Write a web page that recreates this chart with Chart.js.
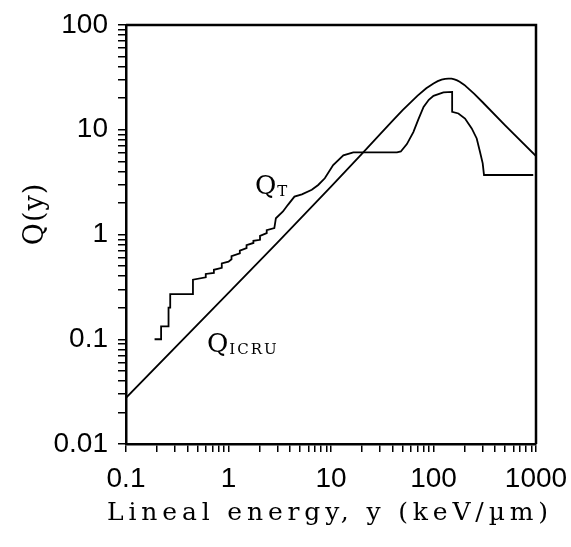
<!DOCTYPE html>
<html>
<head>
<meta charset="utf-8">
<script src="https://cdn.jsdelivr.net/npm/chart.js@4"></script>
<style>
  html, body { margin: 0; padding: 0; background: #fff; }
</style>
</head>
<body>
<canvas id="chart" width="571" height="547"></canvas>
<script>
// --- data ---
const icruX = [0.1, 1, 3, 10, 20, 30, 40, 50, 70, 85, 100, 110, 120, 130, 140, 150, 160, 170, 180, 200, 250, 300, 500, 1000];
const icruY = [0.0276, 0.277, 0.836, 2.86, 5.89, 9.03, 12.2, 15.4, 21.2, 24.9, 27.7, 29.1, 30.1, 30.6, 30.8, 30.7, 30.2, 29.6, 28.7, 26.8, 22.0, 18.4, 11.0, 5.6];

const qtX = [0.19, 0.22, 0.22, 0.26, 0.26, 0.27, 0.27, 0.45, 0.45, 0.6, 0.6, 0.72, 0.72, 0.86, 0.86, 1.0, 1.07, 1.07, 1.29, 1.29, 1.5, 1.5, 1.75, 1.75, 2.03, 2.03, 2.36, 2.36, 2.8, 2.9, 3.4, 3.8, 4.4, 5.2, 6.5, 7.5, 8.7, 10.5, 13.2, 16.5, 44, 48, 55, 63.6, 71, 80, 90, 100, 125, 152, 152, 175, 203, 236, 264, 284, 302, 311, 940];
const qtY = [0.1, 0.1, 0.133, 0.133, 0.2, 0.2, 0.27, 0.27, 0.37, 0.39, 0.42, 0.43, 0.46, 0.48, 0.53, 0.55, 0.58, 0.62, 0.66, 0.7, 0.74, 0.79, 0.83, 0.87, 0.89, 0.97, 1.03, 1.1, 1.15, 1.43, 1.66, 1.92, 2.3, 2.42, 2.67, 2.97, 3.44, 4.6, 5.7, 6.08, 6.08, 6.2, 7.3, 9.5, 12.5, 16.5, 19.3, 21.1, 22.7, 23.0, 14.8, 14.3, 12.8, 10.3, 8.26, 6.17, 4.78, 3.7, 3.7];

const xTickLabels = ["0.1", "1", "10", "100", "1000"];
const yTickLabels = ["0.01", "0.1", "1", "10", "100"];

const xTitle = "Lineal energy, y (keV/\u00b5m)";
const yTitle = "Q(y)";

// where the curve labels sit (data coords)
const labelQT = { x: 1.81, y: 2.45, sub: "T" };
const labelICRU = { x: 0.617, y: 0.075, sub: "ICRU" };

const tickFont = { family: "Liberation Sans", size: 28 };
const serif = "DejaVu Serif";

function toPts(xs, ys){ return xs.map((x,i)=>({ x, y: ys[i] })); }

// 1..9 x 10^n between two powers of ten
function logTicks(lo, hi){
  const out = [];
  for (let e = Math.log10(lo); e < Math.log10(hi); e++){
    for (let s = 1; s < 10; s++) out.push(Number((s * Math.pow(10, e)).toPrecision(3)));
  }
  out.push(hi);
  return out;
}

function majorLabel(labels){
  return (v) => labels.find(s => Math.abs(parseFloat(s)/v - 1) < 1e-6) || "";
}

const decor = {
  id: "decor",
  afterDraw(chart){
    const { ctx, chartArea: a, scales } = chart;
    ctx.save();
    // frame top + right
    ctx.strokeStyle = "#000";
    ctx.lineWidth = 2.5;
    ctx.beginPath();
    ctx.moveTo(a.left, a.top);
    ctx.lineTo(a.right, a.top);
    ctx.lineTo(a.right, a.bottom);
    ctx.stroke();

    ctx.fillStyle = "#000";
    // curve labels
    [labelQT, labelICRU].forEach(l => {
      const px = scales.x.getPixelForValue(l.x);
      const py = scales.y.getPixelForValue(l.y);
      ctx.font = `26px "${serif}"`;
      ctx.textBaseline = "alphabetic";
      ctx.textAlign = "left";
      ctx.letterSpacing = "0px";
      ctx.fillText("Q", px, py);
      const w = ctx.measureText("Q").width;
      ctx.font = `15px "${serif}"`;
      ctx.letterSpacing = "2px";
      ctx.fillText(l.sub, px + w + 1, py + 2);
    });

    // x title, stretched to the figure's width
    ctx.font = `25px "${serif}"`;
    ctx.letterSpacing = "0px";
    const natural = ctx.measureText(xTitle).width;
    const target = 446;
    const sp = (target - natural) / xTitle.length;
    ctx.letterSpacing = sp.toFixed(2) + "px";
    ctx.textAlign = "left";
    ctx.fillText(xTitle, 107, 520);

    // y title
    ctx.font = `27px "${serif}"`;
    ctx.letterSpacing = "1px";
    ctx.translate(43, 214);
    ctx.rotate(-Math.PI/2);
    ctx.textAlign = "center";
    ctx.fillText(yTitle, 0, 0);
    ctx.restore();
  }
};

new Chart(document.getElementById("chart"), {
  type: "line",
  data: {
    datasets: [
      { label: "Q_ICRU", data: toPts(icruX, icruY), borderColor: "#000", borderWidth: 1.8, pointRadius: 0, tension: 0, fill: false },
      { label: "Q_T", data: toPts(qtX, qtY), borderColor: "#000", borderWidth: 1.8, pointRadius: 0, tension: 0, fill: false }
    ]
  },
  options: {
    responsive: false,
    animation: false,
    layout: { padding: { top: 25, right: 35, left: 0, bottom: 0 } },
    plugins: { legend: { display: false }, tooltip: { enabled: false } },
    scales: {
      x: {
        type: "logarithmic", min: 0.1, max: 1000, position: "bottom",
        border: { color: "#000", width: 2.5 },
        grid: { drawOnChartArea: false, tickLength: 8, color: "#000", lineWidth: 1.5 },
        ticks: { autoSkip: false, maxRotation: 0, color: "#000", font: tickFont, padding: 10, callback: majorLabel(xTickLabels) },
        afterBuildTicks: s => { s.ticks = logTicks(0.1, 1000).map(v => ({ value: v })); },
        afterFit: s => { s.height = 103; s.paddingLeft = 0; s.paddingRight = 0; }
      },
      y: {
        type: "logarithmic", min: 0.01, max: 100,
        border: { color: "#000", width: 2.5 },
        grid: { drawOnChartArea: false, tickLength: 8, color: "#000", lineWidth: 1.5 },
        ticks: { autoSkip: false, color: "#000", font: tickFont, padding: 10, callback: majorLabel(yTickLabels) },
        afterBuildTicks: s => { s.ticks = logTicks(0.01, 100).map(v => ({ value: v })); },
        afterFit: s => { s.width = 126; s.paddingTop = 0; s.paddingBottom = 0; }
      }
    }
  },
  plugins: [decor]
});
</script>
</body>
</html>
